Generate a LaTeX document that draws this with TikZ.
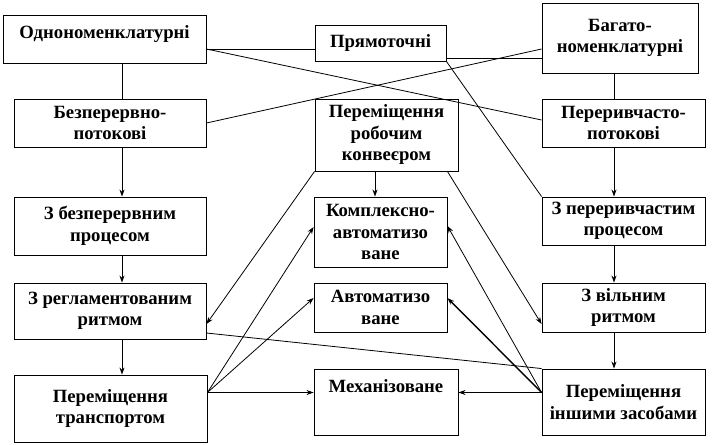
\documentclass[tikz,border=0pt]{standalone}
\usepackage{fontspec}
\setmainfont{Liberation Serif}
\usetikzlibrary{arrows.meta}

\begin{document}
\begin{tikzpicture}[x=1pt, y=-1pt,
    >={Stealth[length=7pt,width=5pt]},
    box/.style={draw, line width=0.9pt, align=center, inner sep=2pt,
        font=\fontsize{18.7}{21.5}\selectfont\bfseries},
    link/.style={line width=0.8pt},
    heavylink/.style={line width=1.4pt}]

    \useasboundingbox (0,0) rectangle (714,444);

    % Axes of the vertical chains
    \coordinate (leftaxis) at (122,0);
    \coordinate (midaxis) at (375,0);
    \coordinate (rightaxis) at (614,0);

    % Left column
    \node[box, minimum width=203pt, minimum height=48pt, text height=13pt, text depth=13pt] (odn) at (104.5,39) {Однономенклатурні};
    \node[box, minimum width=192pt, minimum height=48pt] (bezpot) at (110,123) {Безперервно-\\потокові};
    \node[box, minimum width=192pt, minimum height=58pt] (bezproc) at (110,226) {З безперервним\\процесом};
    \node[box, minimum width=192pt, minimum height=56pt] (rehl) at (110,311) {З регламентованим\\ритмом};
    \node[box, minimum width=193pt, minimum height=67pt] (transp) at (110.5,408.5) {Переміщення\\транспортом};

    % Middle column
    \node[box, minimum width=131pt, minimum height=36pt] (pryam) at (380.5,43) {Прямоточні};
    \node[box, minimum width=143pt, minimum height=72pt] (konv) at (386.5,135) {Переміщення\\робочим\\конвеєром};
    \node[box, minimum width=133pt, minimum height=70pt] (kompl) at (380.5,232) {Комплексно-\\автоматизо\\ване};
    \node[box, minimum width=133pt, minimum height=49pt] (avt) at (380.5,307.5) {Автоматизо\\ване};
    \node[box, minimum width=144pt, minimum height=66pt, text height=13pt, text depth=33pt] (mekh) at (386,402) {Механізоване};

    % Right column
    \node[box, minimum width=156pt, minimum height=70pt] (bahato) at (620,38) {Багато-\\номенклатурні};
    \node[box, minimum width=163pt, minimum height=48pt] (perpot) at (623.5,123) {Переривчасто-\\потокові};
    \node[box, minimum width=163pt, minimum height=48pt] (perproc) at (623.5,221) {З переривчастим\\процесом};
    \node[box, minimum width=163pt, minimum height=49pt] (vil) at (623.5,307.5) {З вільним\\ритмом};
    \node[box, minimum width=163pt, minimum height=66pt] (inshi) at (623.5,402) {Переміщення\\іншими засобами};

    % Vertical chains
    \draw[link] (odn.south -| leftaxis) -- (bezpot.north -| leftaxis);
    \draw[link,->] (bezpot.south -| leftaxis) -- (bezproc.north -| leftaxis);
    \draw[link,->] (bezproc.south -| leftaxis) -- (rehl.north -| leftaxis);
    \draw[link,->] (rehl.south -| leftaxis) -- (transp.north -| leftaxis);
    \draw[link,->] (konv.south -| midaxis) -- (kompl.north -| midaxis);
    \draw[link] (bahato.south -| rightaxis) -- (perpot.north -| rightaxis);
    \draw[link,->] (perpot.south -| rightaxis) -- (perproc.north -| rightaxis);
    \draw[link,->] (perproc.south -| rightaxis) -- (vil.north -| rightaxis);
    \draw[link,->] (vil.south -| rightaxis) -- (inshi.north -| rightaxis);

    % Cross links at the top
    \draw[link] ([yshift=-10pt]odn.east) -- ([yshift=-6pt]pryam.west);
    \draw[link] ([yshift=-10pt]odn.east) -- ([yshift=3pt]perpot.west);
    \draw[link] ([yshift=-15pt]pryam.east) -- ([yshift=-20pt]bahato.west);
    \draw[link] ([yshift=-11pt]bahato.west) -- (bezpot.east);
    \draw[link] (pryam.south east) -- (perproc.north west);

    % Conveyor links
    \draw[link,->] (konv.south west) -- ([yshift=-13pt]rehl.east);
    \draw[link,->] ([xshift=-11pt]konv.south east) -- ([yshift=-16.5pt]vil.west);
    \draw[link] ([yshift=-22pt]rehl.east) -- (inshi.north west);

    % Transport links
    \draw[link,->] ([yshift=16pt]transp.east) -- ([yshift=5pt]kompl.west);
    \draw[link,->] ([yshift=16pt]transp.east) -- ([yshift=9.5pt]avt.west);
    \draw[link,->] ([yshift=16pt]transp.east) -- ([yshift=9.5pt]mekh.west);

    % Other means links
    \draw[link,->] ([yshift=9.5pt]inshi.west) -- ([yshift=6pt]kompl.east);
    \draw[heavylink,->] ([yshift=9.5pt]inshi.west) -- ([yshift=9.5pt]avt.east);
    \draw[link,->] ([yshift=9.5pt]inshi.west) -- ([yshift=9.5pt]mekh.east);

\end{tikzpicture}
\end{document}
